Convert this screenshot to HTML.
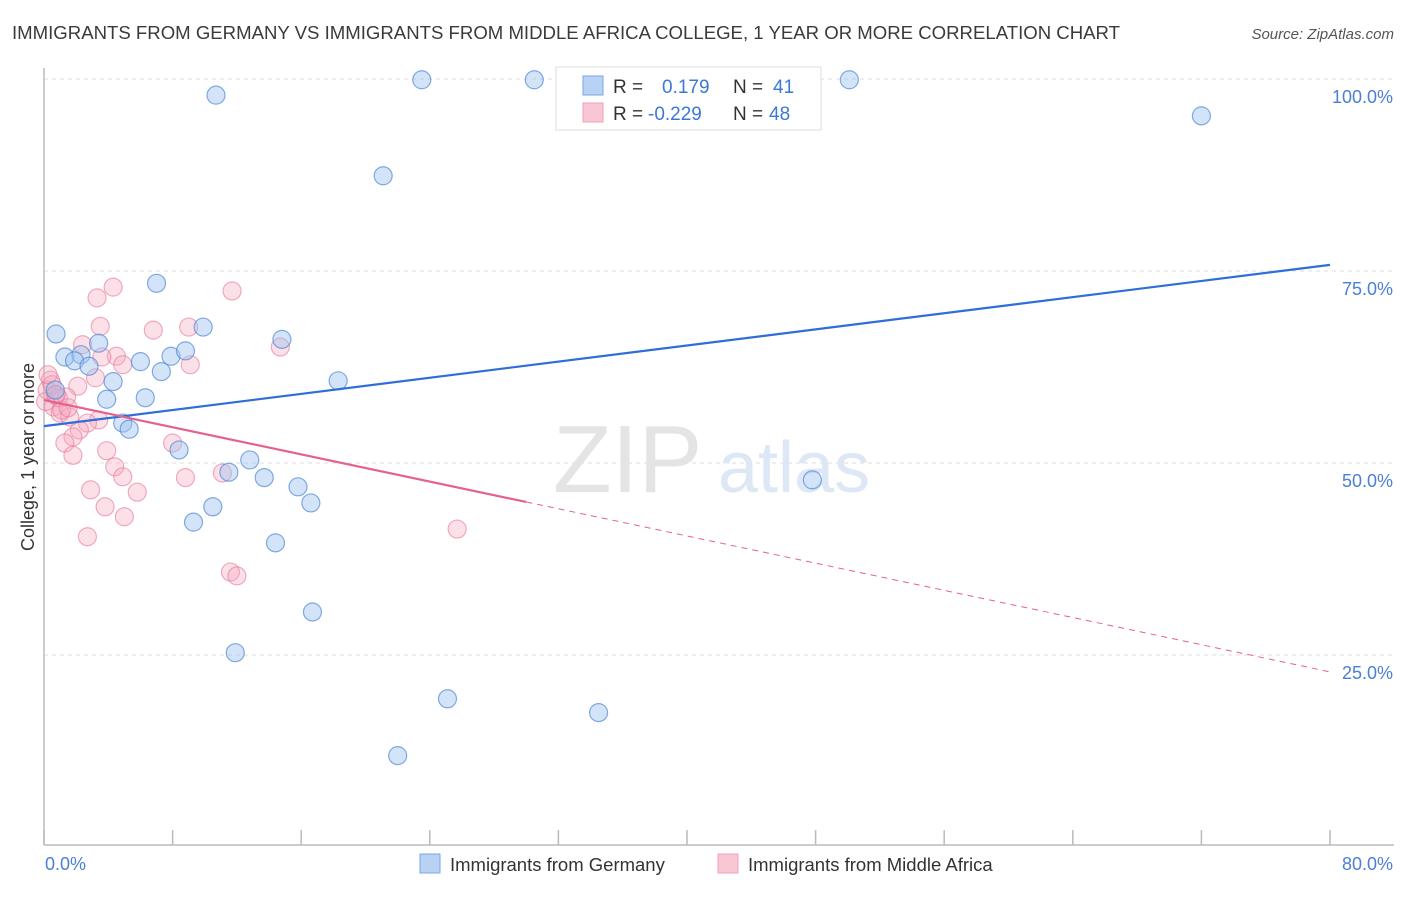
<!DOCTYPE html>
<html><head><meta charset="utf-8"><style>
body{margin:0;background:#fff;font-family:"Liberation Sans",sans-serif}
svg text{font-family:"Liberation Sans",sans-serif}
</style></head><body>
<svg id="chart" width="1406" height="892" viewBox="0 0 1406 892">
<text x="12" y="39" font-size="18.5" fill="#3a3a3a" textLength="1108" lengthAdjust="spacingAndGlyphs">IMMIGRANTS FROM GERMANY VS IMMIGRANTS FROM MIDDLE AFRICA COLLEGE, 1 YEAR OR MORE CORRELATION CHART</text>
<text x="1394" y="39" font-size="15" fill="#555" font-style="italic" text-anchor="end">Source: ZipAtlas.com</text>
<g id="grid"></g>
<g>
<text x="553" y="492" font-size="96" font-family="Liberation Serif" fill="#e4e4e4">ZIP</text>
<text x="718" y="492" font-size="72" fill="#dde7f5">atlas</text>
</g>
<line x1="44" y1="68" x2="44" y2="845" stroke="#bbb" stroke-width="1.5"/>
<line x1="44" y1="845" x2="1394" y2="845" stroke="#bbb" stroke-width="1.5"/>
<text transform="translate(34,457) rotate(-90)" font-size="18" fill="#333" text-anchor="middle">College, 1 year or more</text>
<text x="45" y="870" font-size="18" fill="#4a7fd4">0.0%</text>
<text x="1393" y="870" font-size="18" fill="#4a7fd4" text-anchor="end">80.0%</text>
<g id="points"></g>
<g id="trends"></g>
<g>
<rect x="556" y="67" width="265" height="63" fill="#fff" stroke="#ddd"/>
<rect x="583" y="76" width="20" height="19" fill="#b8d2f4" stroke="#7aa6e3"/>
<rect x="583" y="103" width="20" height="19" fill="#f9c6d4" stroke="#eea0b8"/>
<text x="613" y="93" font-size="19" fill="#333">R = <tspan fill="#3b78d8" x="662">0.179</tspan><tspan x="733" fill="#333">N = </tspan><tspan fill="#3b78d8" x="773">41</tspan></text>
<text x="613" y="120" font-size="19" fill="#333">R = <tspan fill="#3b78d8" x="648">-0.229</tspan><tspan x="733" fill="#333">N = </tspan><tspan fill="#3b78d8" x="769">48</tspan></text>
</g>
<g>
<rect x="420" y="854" width="20" height="19" fill="#b8d2f4" stroke="#7aa6e3"/>
<text x="450" y="871" font-size="18.5" fill="#333">Immigrants from Germany</text>
<rect x="718" y="854" width="20" height="19" fill="#f9c6d4" stroke="#eea0b8"/>
<text x="748" y="871" font-size="18.5" fill="#333">Immigrants from Middle Africa</text>
</g>
</svg>
<script>
const yTicks=[25,50,75,100];
const yTickLabels=["25.0%","50.0%","75.0%","100.0%"];
const xTicks=[0,8,16,24,32,40,48,56,64,72,80];
const germanyX=[10.7,23.5,30.5,50.1,72.0,21.1,7.0,0.75,9.9,3.4,14.8,1.3,2.3,1.9,2.8,7.9,8.8,6.0,7.3,4.3,18.3,3.9,6.3,4.9,5.3,8.4,12.8,11.5,13.7,47.8,15.8,16.6,10.5,9.3,14.4,16.7,11.9,25.1,34.5,22.0,0.7];
const germanyY=[97.9,99.9,99.9,99.9,95.2,87.4,73.4,66.8,67.7,65.6,66.1,63.8,64.1,63.3,62.6,63.9,64.6,63.2,61.9,60.6,60.7,58.3,58.5,55.2,54.4,51.7,50.4,48.8,48.1,47.8,46.9,44.8,44.3,42.3,39.6,30.6,25.3,19.3,17.5,11.9,59.5];
const africaX=[4.3,3.3,11.7,3.5,6.8,9.0,2.4,14.7,4.5,3.6,4.9,9.1,3.2,2.1,0.4,0.2,0.7,0.6,1.0,1.6,3.4,2.7,2.2,1.8,1.3,1.8,3.9,8.0,4.4,4.9,8.8,11.1,5.8,2.9,3.8,5.0,2.7,11.6,12.0,25.7,0.5,0.9,0.1,1.1,0.25,1.4,0.75,1.5];
const africaY=[72.9,71.5,72.4,67.8,67.3,67.7,65.4,65.1,63.9,63.8,62.8,62.8,61.1,60.0,60.8,59.5,58.9,57.3,56.5,56.0,55.6,55.2,54.3,53.4,52.6,51.0,51.6,52.6,49.5,48.2,48.1,48.7,46.2,46.5,44.3,43.0,40.4,35.8,35.3,41.4,60.2,58.5,58.0,56.9,61.5,58.6,58.9,57.2];
const germanyTrend=[54.8,75.8];
const africaTrend=[58.2,22.8];
const africaSolidEnd=[30];
const NS="http://www.w3.org/2000/svg";
const sx=v=>44+v/80*1286;
const sy=v=>79+(100-v)*7.68;
function mk(tag,attrs,parent){const e=document.createElementNS(NS,tag);for(const k in attrs)e.setAttribute(k,attrs[k]);parent.appendChild(e);return e;}
const grid=document.getElementById('grid');
yTicks.forEach((t,i)=>{
  const l=mk('line',{x1:44,x2:1394,y1:sy(t),y2:sy(t),stroke:'#ddd','stroke-dasharray':'4,4'},grid);
  
  
  const tx=mk('text',{x:1393,y:sy(t)+24,'font-size':18,fill:'#4a7fd4','text-anchor':'end'},grid);
  tx.textContent=yTickLabels[i];
  
  
});
xTicks.forEach(t=>{
  const l=mk('line',{x1:sx(t),x2:sx(t),y1:830,y2:845,stroke:'#bbb','stroke-width':1.5},grid);
  
  
});
const pts=document.getElementById('points');
africaX.forEach((x,i)=>{
  const c=mk('circle',{cx:sx(x),cy:sy(africaY[i]),r:9,fill:'rgba(245,165,188,0.35)',stroke:'rgba(230,120,155,0.6)','stroke-width':1.2},pts);
  
  
});
germanyX.forEach((x,i)=>{
  const c=mk('circle',{cx:sx(x),cy:sy(germanyY[i]),r:9,fill:'rgba(160,196,240,0.45)',stroke:'rgba(80,135,215,0.7)','stroke-width':1.2},pts);
  
  
});
const tr=document.getElementById('trends');
const g=mk('line',{x1:sx(0),y1:sy(germanyTrend[0]),x2:sx(80),y2:sy(germanyTrend[1]),stroke:'#2d6fd6','stroke-width':2.2},tr);


const ay=x=>africaTrend[0]+(africaTrend[1]-africaTrend[0])*x/80;
const a1=mk('line',{x1:sx(0),y1:sy(ay(0)),x2:sx(africaSolidEnd[0]),y2:sy(ay(africaSolidEnd[0])),stroke:'#e4628e','stroke-width':2.2},tr);


const a2=mk('line',{x1:sx(africaSolidEnd[0]),y1:sy(ay(africaSolidEnd[0])),x2:sx(80),y2:sy(ay(80)),stroke:'#e4628e','stroke-width':1,'stroke-dasharray':'6,5'},tr);


</script>
</body></html>
